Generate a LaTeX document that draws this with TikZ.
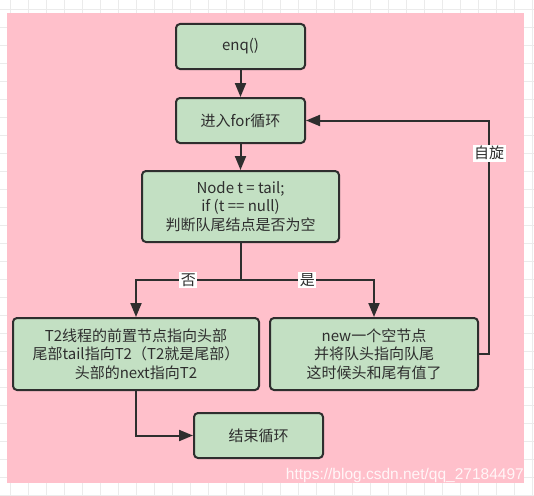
\documentclass[tikz,border=0pt]{standalone}
\usepackage{fontspec}
\setmainfont{Noto Sans CJK SC}
\newfontfamily\wmfont{Liberation Sans}
\usetikzlibrary{arrows.meta}
\definecolor{pinkbg}{HTML}{FFC0CB}
\definecolor{boxgreen}{HTML}{C3E0C3}
\definecolor{ink}{HTML}{2E2E2E}
\definecolor{gridc}{HTML}{EBEBEB}
\begin{document}
\begin{tikzpicture}[x=1pt,y=-1pt,
  box/.style={draw=ink, fill=boxgreen, line width=2pt, rounded corners=4pt, align=center, text=ink,
    font=\fontsize{15}{18.7}\selectfont, inner sep=0pt},
  conn/.style={draw=ink, line width=2pt, -{Triangle[length=14pt,width=11pt]}},
  lbl/.style={fill=white, text=ink, font=\fontsize{15}{18}\selectfont, inner sep=1.5pt}]
\useasboundingbox (0,0) rectangle (534,495);
\fill[white] (0,0) rectangle (534,495);
\foreach \x in {10,28,...,532} \draw[gridc, line width=0.7pt] (\x,0) -- (\x,495);
\foreach \y in {9,27,...,495} \draw[gridc, line width=0.7pt] (0,\y) -- (534,\y);
\fill[pinkbg] (7,13) rectangle (524,483);

\node[box, minimum width=129pt, minimum height=45pt] (enq) at (240.5,46.5) {enq()};
\node[box, minimum width=129pt, minimum height=45pt] (for) at (240.5,120.5) {进入for循环};
\node[box, minimum width=197pt, minimum height=71pt] (cond) at (240.5,206.5) {Node t = tail;\\if (t == null)\\判断队尾结点是否为空};
\node[box, minimum width=246pt, minimum height=72pt] (t2) at (136,354) {T2线程的前置节点指向头部\\尾部tail指向T2（T2就是尾部）\\头部的next指向T2};
\node[box, minimum width=208pt, minimum height=72pt] (new) at (374,354) {new一个空节点\\并将队头指向队尾\\这时候头和尾有值了};
\node[box, minimum width=129pt, minimum height=45pt] (end) at (258.5,435.5) {结束循环};

\draw[conn] (enq) -- (for);
\draw[conn] (for) -- (cond);
\coordinate (split) at (240.5,280);
\draw[conn] (cond.south) -- (split) -| node[lbl, pos=0.25] {否} (t2.north);
\draw[conn] (split) -| node[lbl, pos=0.25] {是} (new.north);
\coordinate (loop) at (489,354);
\draw[conn] (new.east) -- (loop) |- node[lbl, pos=0.43] {自旋} (for.east);
\draw[conn] (t2.south) |- (end.west);

\node[anchor=east, text=white, opacity=0.85, font=\wmfont\fontsize{15.5}{16}\selectfont, inner sep=0pt] (wm) at (524,475) {https://blog.csdn.net/qq\_27184497};
\end{tikzpicture}
\end{document}
